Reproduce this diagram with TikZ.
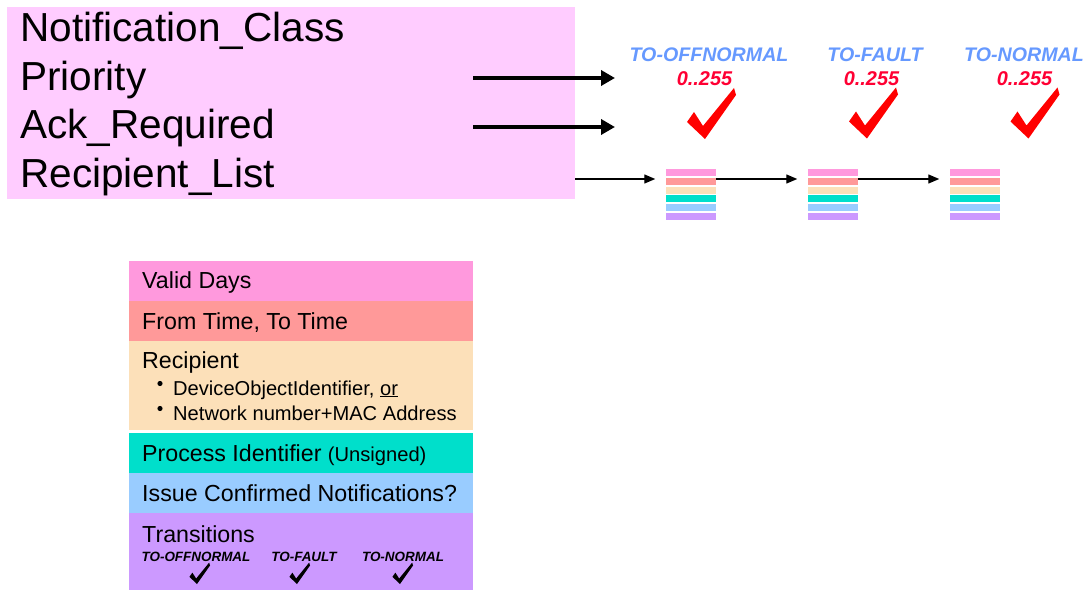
\documentclass[tikz,border=0pt]{standalone}
\usepackage{fontspec}
\setmainfont{Liberation Sans}
\usetikzlibrary{arrows.meta,calc}

\definecolor{boxpink}{HTML}{FFCCFF}
\definecolor{rowA}{HTML}{FF99DD}
\definecolor{rowB}{HTML}{FF9999}
\definecolor{rowC}{HTML}{FCE0B9}
\definecolor{rowD}{HTML}{00DFCB}
\definecolor{rowE}{HTML}{99CCFF}
\definecolor{rowF}{HTML}{CC99FF}
\definecolor{toblue}{HTML}{6699FF}
\definecolor{numred}{HTML}{FF0033}
\definecolor{tickred}{HTML}{FF0000}

\begin{document}
\begin{tikzpicture}[x=1bp,y=-1bp,
  listtxt/.style={anchor=base west,inner sep=0,font=\fontsize{40.7}{48}\selectfont},
  rowtxt/.style={anchor=base west,inner sep=0,font=\fontsize{23.3}{27}\selectfont},
  bultxt/.style={anchor=base west,inner sep=0,font=\fontsize{20.2}{24}\selectfont},
  translbl/.style={anchor=base,inner sep=0,text=toblue,font=\bfseries\itshape\fontsize{19.7}{23}\selectfont},
  rangelbl/.style={anchor=base,inner sep=0,text=numred,font=\bfseries\itshape\fontsize{20}{24}\selectfont},
  sublbl/.style={anchor=base,inner sep=0,font=\bfseries\itshape\fontsize{13.5}{16}\selectfont},
  rowbox/.style={anchor=north west,inner sep=0,minimum width=344bp,fill=#1},
  stackbox/.style={inner sep=0,minimum width=50bp,minimum height=51bp},
  thickarrow/.style={line width=4.5bp,-{Triangle[length=14bp,width=15bp]}},
  thinarrow/.style={line width=1.3bp,-{Triangle[length=11bp,width=9bp]},shorten >=10.5bp},
  stripes/.pic={
    \foreach \c [count=\i from 0] in {rowA,rowB,rowC,rowD,rowE,rowF}
      \fill[\c] (0,0.5+\i*8.66) rectangle ++(50,7);
  },
  tickmark/.pic={
    \fill (-18,-17) -- (-11,-27) -- (-2,-13) -- (29,-51) -- (31,-44) -- (0,0) -- cycle;
  }
]
\useasboundingbox (0,0) rectangle (1087,590);

% object properties
\node[fill=boxpink,inner sep=0,minimum width=568bp,minimum height=192bp,anchor=north west] (nc) at (7,7) {};
\node[listtxt] (t1) at (20,42) {Notification\_Class};
\node[listtxt] (t2) at (20,90.5) {Priority};
\node[listtxt] (t3) at (20,139) {Ack\_Required};
\node[listtxt] (t4) at (20,187.5) {Recipient\_List};

% per-transition priority and acknowledgement
\coordinate (pa) at (473,78);  \coordinate (pb) at (615,78);
\coordinate (aa) at (473,127); \coordinate (ab) at (615,127);
\draw[thickarrow] (pa) -- (pb);
\draw[thickarrow] (aa) -- (ab);

\node[translbl] (h1) at (709,62)  {TO-OFFNORMAL};
\node[translbl] (h2) at (875,62)  {TO-FAULT};
\node[translbl] (h3) at (1024,62) {TO-NORMAL};
\node[rangelbl] (n1) at (704.5,86)  {0..255};
\node[rangelbl] (n2) at (871.5,86)  {0..255};
\node[rangelbl] (n3) at (1024.5,86) {0..255};
\pic[tickred] at (705,139) {tickmark};
\pic[tickred] at (867,138.5) {tickmark};
\pic[tickred] at (1028.5,138.5) {tickmark};

% recipient list chain
\node[stackbox] (s1) at (691,194.5) {};
\node[stackbox] (s2) at (833,194.5) {};
\node[stackbox] (s3) at (975,194.5) {};
\pic at (s1.north west) {stripes};
\pic at (s2.north west) {stripes};
\pic at (s3.north west) {stripes};
\coordinate (r0) at (575,179);
\draw[thinarrow] (r0) -- (s1.west |- r0);
\draw[thinarrow] (s1.east |- r0) -- (s2.west |- r0);
\draw[thinarrow] (s2.east |- r0) -- (s3.west |- r0);

% destination entry
\node[rowbox=rowA,minimum height=40bp] (vd) at (129,261) {};
\node[rowbox=rowB,minimum height=40bp] (ft) at (129,301) {};
\node[rowbox=rowC,minimum height=89bp] (rc) at (129,341) {};
\node[rowbox=rowD,minimum height=40bp] (pi) at (129,433) {};
\node[rowbox=rowE,minimum height=40bp] (ic) at (129,473) {};
\node[rowbox=rowF,minimum height=77bp] (tr) at (129,513) {};

\node[rowtxt] (vdt) at (142,289) {Valid Days};
\node[rowtxt] (ftt) at (142,329) {From Time, To Time};
\node[rowtxt] (rct) at (142,368) {Recipient};
\fill (160,383.5) circle (2.6bp);
\node[bultxt] (b1) at (173,395) {DeviceObjectIdentifier, \underline{or}};
\fill (160,408.5) circle (2.6bp);
\node[bultxt] (b2) at (173,420) {Network number+MAC Address};
\node[rowtxt] (pit) at (142,461) {Process Identifier {\fontsize{20.2}{24}\selectfont(Unsigned)}};
\node[rowtxt] (ict) at (142,501) {Issue Confirmed Notifications?};
\node[rowtxt] (trt) at (142,542) {Transitions};
\node[sublbl] (u1) at (196,561) {TO-OFFNORMAL};
\node[sublbl] (u2) at (304,561) {TO-FAULT};
\node[sublbl] (u3) at (403,561) {TO-NORMAL};
\pic[black,scale=0.42] at (197,584) {tickmark};
\pic[black,scale=0.42] at (297,584) {tickmark};
\pic[black,scale=0.42] at (400,584) {tickmark};
\end{tikzpicture}
\end{document}
